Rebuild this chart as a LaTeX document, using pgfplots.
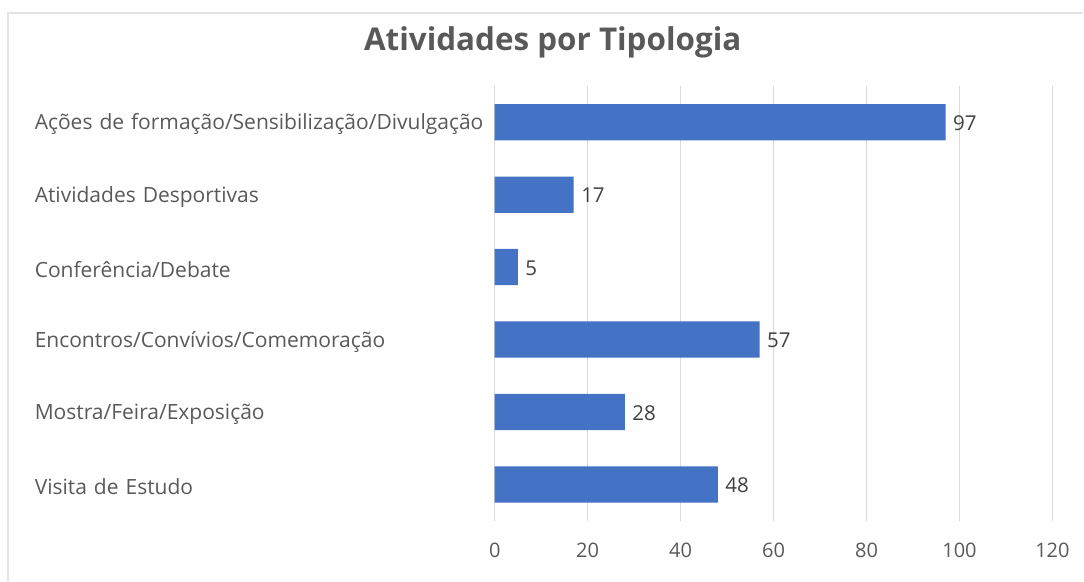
\documentclass[border=0pt]{standalone}
\usepackage{pgfplots}
\pgfplotsset{compat=1.18}
\usepackage{fontspec}
\setmainfont{Open Sans}
\definecolor{barblue}{HTML}{4472C4}
\definecolor{txt}{HTML}{595959}
\definecolor{gridc}{HTML}{D9D9D9}
\definecolor{vtxt}{HTML}{404040}
\begin{document}
\begin{tikzpicture}[x=1pt,y=1pt]
\path (0,0) rectangle (1084,581);
\draw[gridc!70, line width=1.2pt] (8,0) -- (8,568) -- (1084,568);
\node[font=\fontsize{31.4}{36}\selectfont\bfseries, text=txt] at (553,539) {Atividades por Tipologia};
\begin{axis}[
  at={(495pt,60pt)}, anchor=south west, scale only axis,
  width=558pt, height=435pt,
  xbar, bar width=0.5,
  xmin=0, xmax=120, ymin=-0.5, ymax=5.5, y dir=reverse,
  axis line style={draw=none},
  major tick length=0pt,
  xmajorgrids, grid style={gridc, line width=1.2pt},
  xtick={0,20,...,120},
  ytick={0,...,5},
  yticklabels={Ações de formação/Sensibilização/Divulgação, Atividades Desportivas, Conferência/Debate, Encontros/Convívios/Comemoração, Mostra/Feira/Exposição, Visita de Estudo},
  yticklabel style={anchor=east, text width=460pt, align=left, inner sep=0pt, yshift=-2pt, font=\fontsize{21}{24}\selectfont, text=txt},
  xticklabel style={font=\fontsize{20}{24}\selectfont, text=txt, yshift=-19pt},
  /pgf/number format/assume math mode=true,
  nodes near coords,
  nodes near coords style={anchor=west, xshift=4pt, yshift=-1pt, font=\fontsize{20.5}{24}\selectfont, text=vtxt},
]
\addplot[fill=barblue, draw=none] coordinates {(97,0) (17,1) (5,2) (57,3) (28,4) (48,5)};
\end{axis}
\end{tikzpicture}
\end{document}
